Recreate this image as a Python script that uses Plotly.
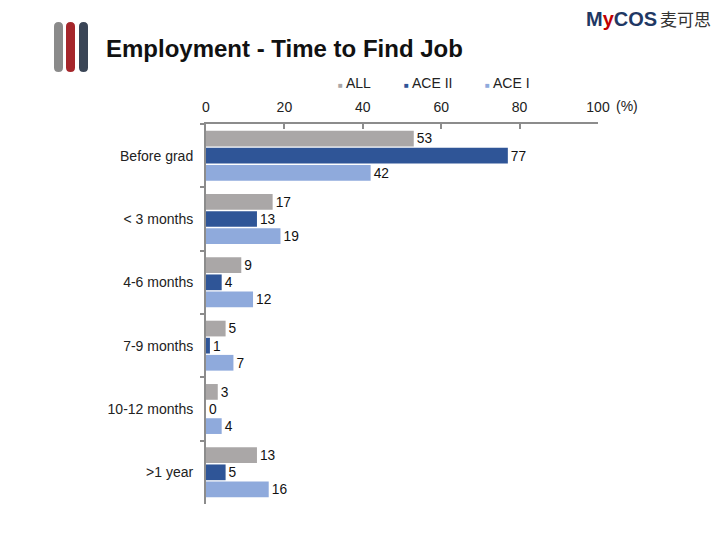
import plotly.graph_objects as go

categories = ["Before grad", "< 3 months", "4-6 months", "7-9 months", "10-12 months", ">1 year"]
all_vals = [53, 17, 9, 5, 3, 13]
ace2_vals = [77, 13, 4, 1, 0, 5]
ace1_vals = [42, 19, 12, 7, 4, 16]
series_names = ["ALL", "ACE II", "ACE I"]
series_colors = ["#AAA7A7", "#2F5597", "#8FAADC"]
tick_vals = [0, 20, 40, 60, 80, 100]

# plot area in pixels
L, R, T, B = 206, 598, 124, 504
W, H = 720, 540

def px(x):
    return (x - L) / (R - L)

def py(y):
    return (B - y) / (B - T)

fig = go.Figure()
for name, vals, col in zip(series_names, [all_vals, ace2_vals, ace1_vals], series_colors):
    fig.add_trace(go.Bar(
        y=categories, x=vals, name=name, orientation="h",
        marker=dict(color=col, line=dict(width=0)),
        text=[str(v) for v in vals], textposition="outside",
        textfont=dict(family="Liberation Sans", size=14, color="#111"),
        cliponaxis=False, showlegend=False,
    ))

fig.update_layout(
    width=W, height=H,
    margin=dict(l=L, r=W - R, t=T, b=H - B),
    paper_bgcolor="white", plot_bgcolor="white",
    barmode="group", bargap=0.19, bargroupgap=0.08,
    font=dict(family="Liberation Sans", size=14, color="#222"),
    showlegend=False,
    xaxis=dict(side="top", range=[0, 100], tickvals=tick_vals, ticktext=[str(v) for v in tick_vals],
               showgrid=False, zeroline=False, showline=True, linecolor="#8C8C8C", linewidth=2,
               ticks="inside", ticklen=5, tickcolor="#8C8C8C", tickwidth=2,
               ticklabelstandoff=4, tickfont=dict(size=14, color="#222")),
    yaxis=dict(autorange="reversed", showgrid=False, showline=True, linecolor="#8C8C8C", linewidth=2,
               ticks="outside", ticklen=4, tickcolor="#8C8C8C", tickwidth=2, tickson="boundaries",
               ticklabelstandoff=8, tickfont=dict(size=14, color="#222")),
)

# legend (small square markers, drawn as text items)
legend_x = [336, 402, 483]
for name, col, lx in zip(series_names, series_colors, legend_x):
    fig.add_annotation(text=f"<span style='color:{col};font-size:8px'>■</span> {name}",
                       xref="paper", yref="paper", x=px(lx), y=py(83),
                       xanchor="left", yanchor="middle", showarrow=False,
                       font=dict(family="Liberation Sans", size=14, color="#222"))

# title
fig.add_annotation(text="<b>Employment - Time to Find Job</b>", xref="paper", yref="paper",
                   x=px(104), y=py(48), xanchor="left", yanchor="middle", showarrow=False,
                   font=dict(family="Liberation Sans", size=24, color="#111"))
# (%) unit label
fig.add_annotation(text="(%)", xref="paper", yref="paper", x=px(614), y=py(106),
                   xanchor="left", yanchor="middle", showarrow=False,
                   font=dict(family="Liberation Sans", size=14, color="#222"))

# decorative vertical bars
def rounded_bar(x0, x1, y0, y1, color):
    r = (x1 - x0) / 2
    X0, X1 = px(x0), px(x1)
    Xm = px((x0 + x1) / 2)
    Yt, Yb = py(y0), py(y1)
    Ytr, Ybr = py(y0 + r), py(y1 - r)
    path = (f"M {X0},{Ytr} Q {X0},{Yt} {Xm},{Yt} Q {X1},{Yt} {X1},{Ytr} "
            f"L {X1},{Ybr} Q {X1},{Yb} {Xm},{Yb} Q {X0},{Yb} {X0},{Ybr} Z")
    fig.add_shape(type="path", path=path, xref="paper", yref="paper",
                  fillcolor=color, line=dict(width=0), layer="above")

rounded_bar(54, 63, 22, 72, "#8A8A8A")
rounded_bar(66, 75, 22, 72, "#A5262B")
rounded_bar(79, 88, 22, 72, "#3A4556")

# logo
fig.add_annotation(text="<b>M<span style='color:#C00000'>y</span>COS</b>", xref="paper", yref="paper",
                   x=px(584), y=py(19), xanchor="left", yanchor="middle", showarrow=False,
                   font=dict(family="Liberation Sans", size=20, color="#1F3864"))
fig.add_annotation(text="麦可思", xref="paper", yref="paper",
                   x=px(658), y=py(19), xanchor="left", yanchor="middle", showarrow=False,
                   font=dict(family="Noto Sans CJK SC", size=17, color="#333"))

fig.write_html("out.html", config={"displayModeBar": False},
               post_script="document.body.style.margin='0';")
